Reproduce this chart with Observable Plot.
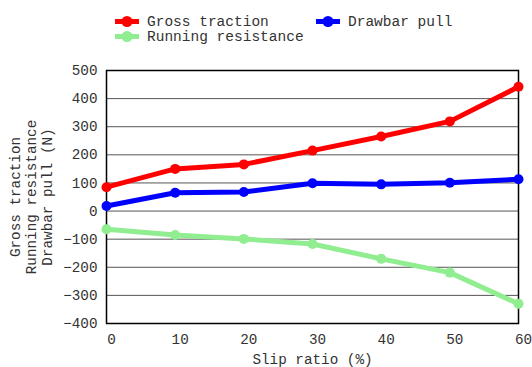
<!DOCTYPE html>
<html>
<head>
<meta charset="utf-8">
<script src="https://cdn.jsdelivr.net/npm/d3@7"></script>
<script src="https://cdn.jsdelivr.net/npm/@observablehq/plot@0.6"></script>
<style>
  body { margin: 0; background: #fff; font-family: "Liberation Mono", "DejaVu Sans Mono", monospace; }
  #wrap { width: 532px; }
  #legend { position: relative; height: 46px; width: 532px; font-size: 14.5px; color: #333; }
  .item { position: absolute; display: flex; align-items: center; height: 15px; }
  .item svg { margin-right: 8px; }
</style>
</head>
<body>
<div id="wrap">
  <div id="legend"></div>
  <div id="chart"></div>
</div>
<script>
const slip = [0, 10, 20, 30, 40, 50, 60];
const grossTraction = [85, 150, 166, 215, 265, 319, 442];
const drawbarPull = [18, 65, 68, 99, 95, 101, 113];
const runningResistance = [-65, -85, -99, -117, -170, -219, -330];
const seriesNames = ["Gross traction", "Drawbar pull", "Running resistance"];
const seriesColors = ["#ff0000", "#0000ff", "#90ee90"];
const yTicks = [-400, -300, -200, -100, 0, 100, 200, 300, 400, 500];
const xTicks = [0, 10, 20, 30, 40, 50, 60];
const yLabel = "Gross traction\nRunning resistance\nDrawbar pull (N)";
const xLabel = "Slip ratio (%)";

const seriesValues = [grossTraction, drawbarPull, runningResistance];
const data = [];
seriesNames.forEach((name, i) => {
  slip.forEach((s, j) => data.push({series: name, slip: s, value: seriesValues[i][j]}));
});

// Legend
const legend = document.getElementById("legend");
const legendPos = [[115, 14], [316, 14], [115, 29]];
seriesNames.forEach((name, i) => {
  const div = document.createElement("div");
  div.className = "item";
  div.style.left = legendPos[i][0] + "px";
  div.style.top = legendPos[i][1] + "px";
  div.innerHTML = `<svg width="24" height="15"><line x1="0" x2="24" y1="7.5" y2="7.5" stroke="${seriesColors[i]}" stroke-width="5"/><circle cx="12" cy="7.5" r="5.5" fill="${seriesColors[i]}"/></svg><span>${name}</span>`;
  legend.appendChild(div);
});

const font = "Liberation Mono, DejaVu Sans Mono, monospace";
const chart = Plot.plot({
  width: 532,
  height: 321,
  marginTop: 24,
  marginBottom: 44,
  marginLeft: 106,
  marginRight: 14,
  style: {fontFamily: font, fontSize: "14.3px", color: "#333", background: "#fff", overflow: "visible"},
  x: {domain: [0, 60], ticks: xTicks, label: null},
  y: {domain: [-400, 500], ticks: yTicks, label: null},
  color: {domain: seriesNames, range: seriesColors},
  marks: [
    Plot.ruleY(yTicks, {stroke: "#555", strokeWidth: 1}),
    Plot.frame({stroke: "#000", strokeWidth: 1.5}),
    Plot.axisY({ticks: yTicks, tickSize: 0, tickPadding: 9, label: null, fontSize: 14.3}),
    Plot.axisX({ticks: xTicks, tickSize: 0, tickPadding: 10, dx: 5, label: null, fontSize: 14.3}),
    Plot.line(data, {x: "slip", y: "value", z: "series", stroke: "series", strokeWidth: 5}),
    Plot.dot(data, {x: "slip", y: "value", fill: "series", r: 5}),
    Plot.text([yLabel], {text: d => d, frameAnchor: "left", rotate: -90, dx: -76, textAnchor: "middle", lineAnchor: "middle", lineHeight: 1.12, fontSize: 14.3, fill: "#333"}),
    Plot.text([xLabel], {text: d => d, frameAnchor: "bottom", dy: 40, textAnchor: "middle", lineAnchor: "bottom", fontSize: 14.3, fill: "#333"})
  ]
});
document.getElementById("chart").appendChild(chart);
</script>
</body>
</html>
